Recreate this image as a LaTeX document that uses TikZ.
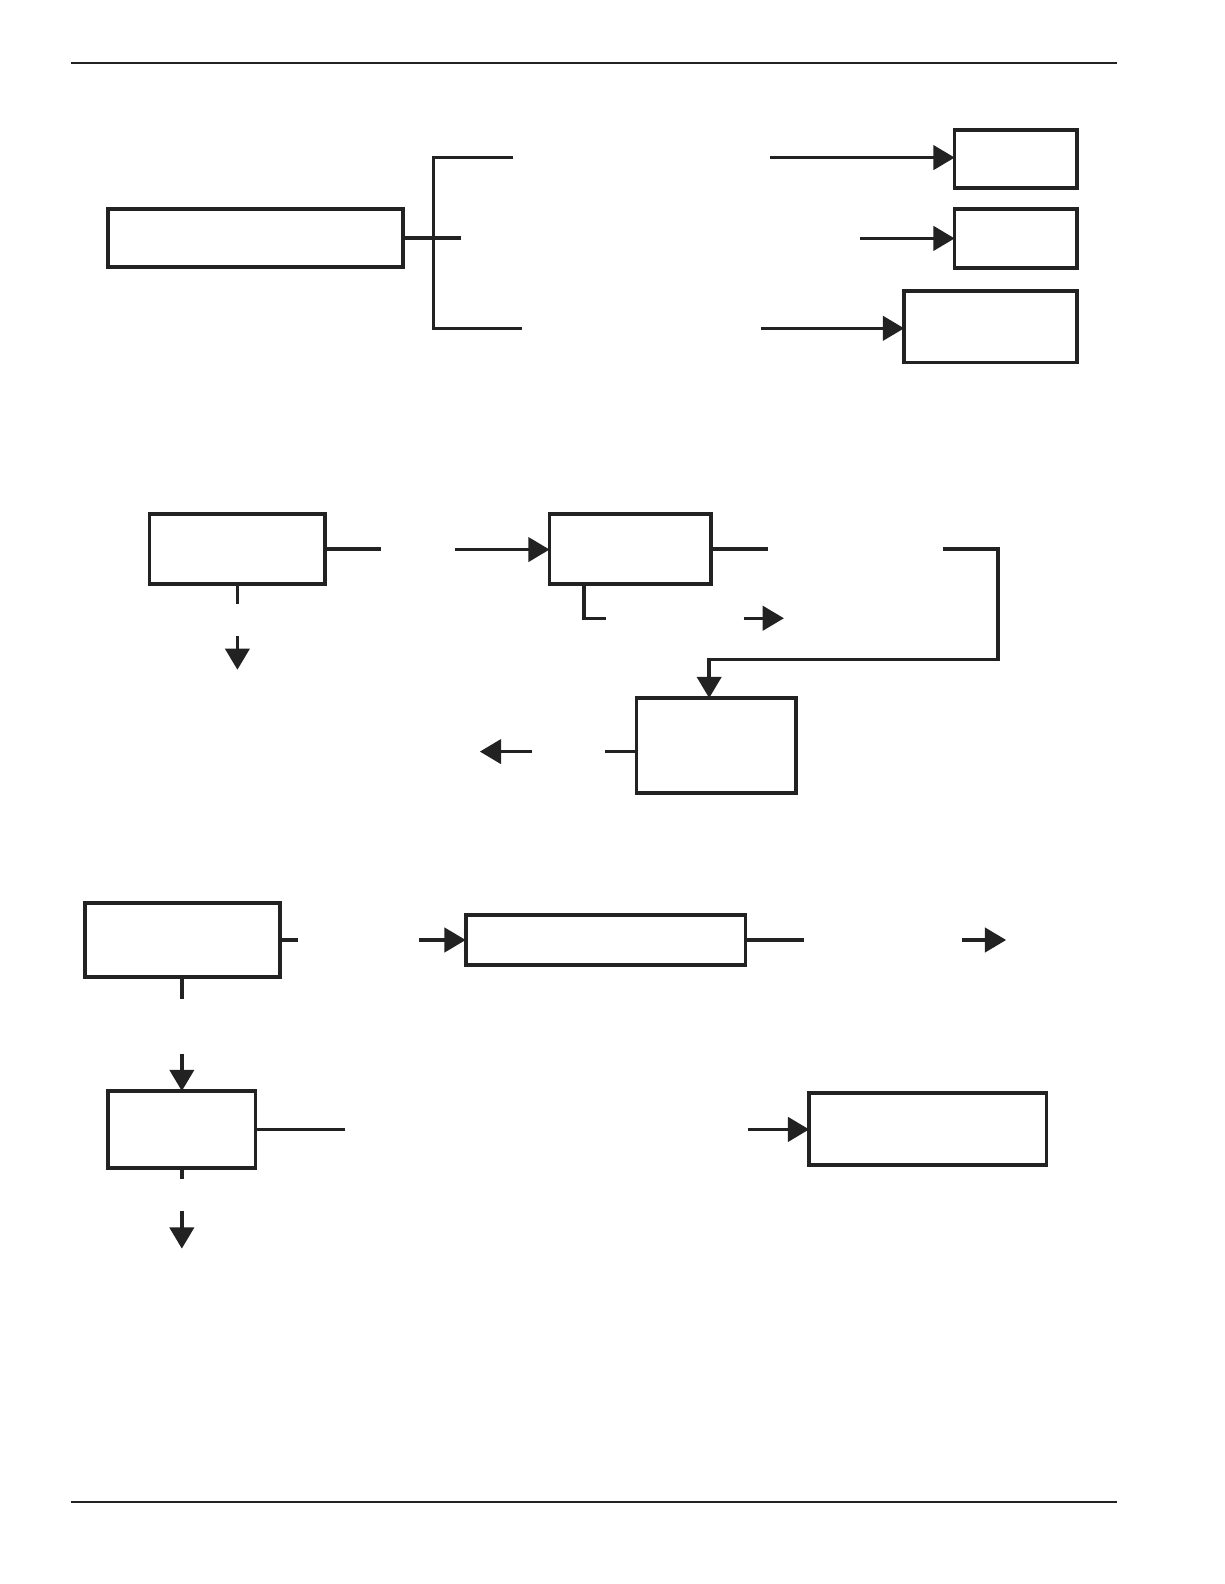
\documentclass[tikz,border=0pt]{standalone}
\usetikzlibrary{arrows.meta}
\definecolor{ink}{RGB}{34,34,34}
\tikzset{
  box/.style={draw=ink,line width=1.8pt,rectangle,inner sep=0pt,outer sep=0pt},
  conn/.style={draw=ink,line width=1.7pt},
  arr/.style={conn,-{Triangle[length=10.5pt,width=12pt]}},
  rulel/.style={draw=ink,line width=1pt}
}
\newcommand{\mkbox}[5]{\node[box,minimum width={(#4-#2)*0.5pt},minimum height={(#5-#3)*0.5pt}] (#1) at ({(#2+#4)/2},{(#3+#5)/2}) {};}
\begin{document}
\begin{tikzpicture}[x=0.5pt,y=-0.5pt]
\useasboundingbox (0,0) rectangle (1212,1568);
% rules
\coordinate (tl) at (70,62); \coordinate (tr) at (1106,62);
\coordinate (bl) at (70,1487); \coordinate (br) at (1106,1487);
\draw[rulel] (tl) -- (tr);
\draw[rulel] (bl) -- (br);
% section 1
\mkbox{A}{107}{207}{399}{264}
\mkbox{B1}{945}{129}{1066}{186}
\mkbox{B2}{945}{207}{1066}{265}
\mkbox{B3}{895}{288}{1066}{359}
\coordinate (aend) at (456,235.5);
\coordinate (bt) at (429,156); \coordinate (bb) at (429,325);
\coordinate (bte) at (508,156); \coordinate (bbe) at (517,325);
\coordinate (s1) at (762,156); \coordinate (s2) at (851,236); \coordinate (s3) at (753,325);
\draw[conn] (A.east) -- (A.east -| aend);
\draw[conn] (bte) -- (bt) -- (bb) -- (bbe);
\draw[arr] (s1) -- (s1 -| B1.west);
\draw[arr] (s2) -- (s2 -| B2.west);
\draw[arr] (s3) -- (s3 -| B3.west);
% section 2
\mkbox{C}{148}{509}{322}{578}
\mkbox{D}{544}{509}{704}{578}
\mkbox{E}{630}{691}{788}{785}
\coordinate (cs) at (377,544); \coordinate (ca) at (450,544);
\draw[conn] (C.east) -- (C.east -| cs);
\draw[arr] (ca) -- (ca -| D.west);
\coordinate (cb) at (235,598); \coordinate (cd0) at (235,630); \coordinate (cd1) at (235,663);
\draw[conn] (C.south -| cb) -- (cb);
\draw[arr] (cd0) -- (cd1);
\coordinate (ds) at (760,543.5);
\draw[conn] (D.east) -- (D.east -| ds);
\coordinate (dl0) at (578,578); \coordinate (dl1) at (600,612);
\draw[conn] (dl0) |- (dl1);
\coordinate (da0) at (736,612); \coordinate (da1) at (776,612);
\draw[arr] (da0) -- (da1);
\coordinate (lp0) at (933,543.5); \coordinate (lp1) at (988,543.5);
\coordinate (lp2) at (988,653); \coordinate (lp3) at (702,653);
\draw[arr] (lp0) -- (lp1) -- (lp2) -- (lp3) -- (lp3 |- E.north);
\coordinate (es) at (599,744);
\draw[conn] (E.west |- es) -- (es);
\coordinate (ea0) at (527,744); \coordinate (ea1) at (475,744);
\draw[arr] (ea0) -- (ea1);
% section 3
\mkbox{F}{84}{894}{277}{967}
\mkbox{G}{461}{906}{738}{955}
\mkbox{H}{107}{1080}{253}{1156}
\mkbox{I}{801}{1082}{1036}{1153}
\coordinate (fs) at (295,930.5); \coordinate (fa) at (415,930.5);
\draw[conn] (F.east |- fs) -- (fs);
\draw[arr] (fa) -- (fa -| G.west);
\coordinate (gs) at (796,930.5);
\draw[conn] (G.east) -- (G.east -| gs);
\coordinate (ga0) at (952,930.5); \coordinate (ga1) at (996,930.5);
\draw[arr] (ga0) -- (ga1);
\coordinate (fb) at (180,989);
\draw[conn] (F.south -| fb) -- (fb);
\coordinate (fa0) at (180,1043);
\draw[arr] (fa0) -- (fa0 |- H.north);
\coordinate (hs) at (342,1118);
\draw[conn] (H.east |- hs) -- (hs);
\coordinate (ha) at (740,1118);
\draw[arr] (ha) -- (ha -| I.west);
\coordinate (hb) at (180,1167);
\draw[conn] (H.south -| hb) -- (hb);
\coordinate (hd0) at (180,1199); \coordinate (hd1) at (180,1236);
\draw[arr] (hd0) -- (hd1);
\end{tikzpicture}
\end{document}
